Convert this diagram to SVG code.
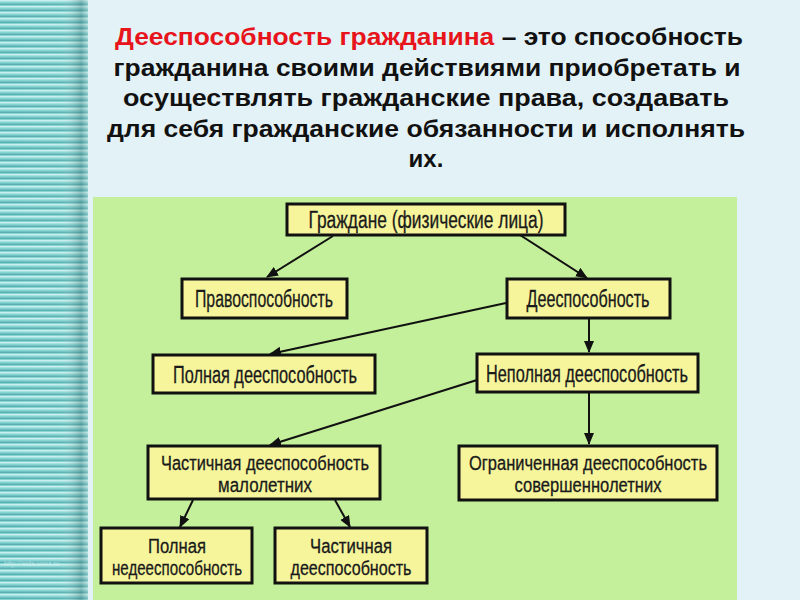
<svg xmlns="http://www.w3.org/2000/svg" width="800" height="600" viewBox="0 0 800 600">
<defs>
<pattern id="stripes" x="0" y="0" width="90" height="6" patternUnits="userSpaceOnUse">
<rect x="0" y="0" width="90" height="6" fill="#84d4d3"/>
<rect x="0" y="0" width="90" height="1.5" fill="#c6efed"/>
<rect x="0" y="3.5" width="90" height="1.5" fill="#5aafaf"/>
</pattern>
<linearGradient id="edge" x1="0" y1="0" x2="1" y2="0">
<stop offset="0" stop-color="#ffffff" stop-opacity="0"/>
<stop offset="0.7" stop-color="#ffffff" stop-opacity="0.05"/>
<stop offset="0.92" stop-color="#3a6f70" stop-opacity="0.35"/>
<stop offset="1" stop-color="#c0dede" stop-opacity="0.4"/>
</linearGradient>
<marker id="arr" markerWidth="12" markerHeight="10" refX="11" refY="5" orient="auto" markerUnits="userSpaceOnUse">
<path d="M0,0 L12,5 L0,10 Z" fill="#111"/>
</marker>
<style>
.box{fill:#f6f59c;stroke:#111;stroke-width:3}
.bt{font-family:"Liberation Sans","DejaVu Sans",sans-serif;font-size:23px;fill:#1a1a1a;stroke:#1a1a1a;stroke-width:0.3;text-anchor:middle}
.bt2{font-family:"Liberation Sans","DejaVu Sans",sans-serif;font-size:20px;fill:#1a1a1a;stroke:#1a1a1a;stroke-width:0.3;text-anchor:middle}
.title{font-family:"Liberation Sans",Arial,sans-serif;font-weight:bold;font-size:24px;fill:#111;text-anchor:middle}
.conn{stroke:#111;stroke-width:2;fill:none;marker-end:url(#arr)}
</style>
</defs>
<rect x="0" y="0" width="800" height="600" fill="#e3f2f6"/>
<rect x="0" y="0" width="88" height="600" fill="url(#stripes)"/>
<rect x="0" y="0" width="88" height="600" fill="url(#edge)"/>
<text x="4" y="566" font-family="Liberation Sans,sans-serif" font-size="7" fill="#d8f4f4" opacity="0.6">http://aida.ucoz.ru</text>
<rect x="93" y="197" width="644" height="403" fill="#c5f09b"/>

<g id="title">
<text class="title" x="429" y="45" textLength="628" lengthAdjust="spacingAndGlyphs"><tspan fill="#e8141b">Дееспособность гражданина</tspan> – это способность</text>
<text class="title" x="427" y="76" textLength="627" lengthAdjust="spacingAndGlyphs">гражданина своими действиями приобретать и</text>
<text class="title" x="426" y="106" textLength="606" lengthAdjust="spacingAndGlyphs">осуществлять гражданские права, создавать</text>
<text class="title" x="426" y="137" textLength="638" lengthAdjust="spacingAndGlyphs">для себя гражданские обязанности и исполнять</text>
<text class="title" x="426" y="167">их.</text>
</g>

<g id="connectors">
<line class="conn" x1="333" y1="236" x2="267" y2="277"/>
<line class="conn" x1="520" y1="235" x2="587" y2="278"/>
<line class="conn" x1="506" y1="303" x2="270" y2="354"/>
<line class="conn" x1="589" y1="318" x2="589" y2="352"/>
<line class="conn" x1="477" y1="380" x2="270" y2="445"/>
<line class="conn" x1="589" y1="392" x2="589" y2="444"/>
<line class="conn" x1="193" y1="500" x2="180" y2="527"/>
<line class="conn" x1="335" y1="500" x2="350" y2="527"/>
</g>

<g id="n1"><rect class="box" x="287" y="204" width="278" height="31"/><text class="bt" x="426" y="228" textLength="235" lengthAdjust="spacingAndGlyphs">Граждане (физические лица)</text></g>
<g id="n2"><rect class="box" x="182" y="279" width="165" height="39"/><text class="bt" x="264" y="307" textLength="138" lengthAdjust="spacingAndGlyphs">Правоспособность</text></g>
<g id="n3"><rect class="box" x="507" y="279" width="163" height="39"/><text class="bt" x="588" y="307" textLength="123" lengthAdjust="spacingAndGlyphs">Дееспособность</text></g>
<g id="n4"><rect class="box" x="153" y="355" width="222" height="38"/><text class="bt" x="265" y="383" textLength="184" lengthAdjust="spacingAndGlyphs">Полная дееспособность</text></g>
<g id="n5"><rect class="box" x="477" y="354" width="221" height="38"/><text class="bt" x="587" y="382" textLength="202" lengthAdjust="spacingAndGlyphs">Неполная дееспособность</text></g>
<g id="n6"><rect class="box" x="148" y="446" width="232" height="53"/><text class="bt2" x="265" y="470" textLength="208" lengthAdjust="spacingAndGlyphs">Частичная дееспособность</text><text class="bt2" x="265" y="492" textLength="94" lengthAdjust="spacingAndGlyphs">малолетних</text></g>
<g id="n7"><rect class="box" x="459" y="446" width="258" height="54"/><text class="bt2" x="588" y="470" textLength="238" lengthAdjust="spacingAndGlyphs">Ограниченная дееспособность</text><text class="bt2" x="588" y="492" textLength="147" lengthAdjust="spacingAndGlyphs">совершеннолетних</text></g>
<g id="n8"><rect class="box" x="101" y="528" width="151" height="55"/><text class="bt2" x="177" y="553" textLength="58" lengthAdjust="spacingAndGlyphs">Полная</text><text class="bt2" x="177" y="575" textLength="130" lengthAdjust="spacingAndGlyphs">недееспособность</text></g>
<g id="n9"><rect class="box" x="275" y="528" width="152" height="55"/><text class="bt2" x="351" y="553" textLength="82" lengthAdjust="spacingAndGlyphs">Частичная</text><text class="bt2" x="351" y="575" textLength="121" lengthAdjust="spacingAndGlyphs">дееспособность</text></g>
</svg>
